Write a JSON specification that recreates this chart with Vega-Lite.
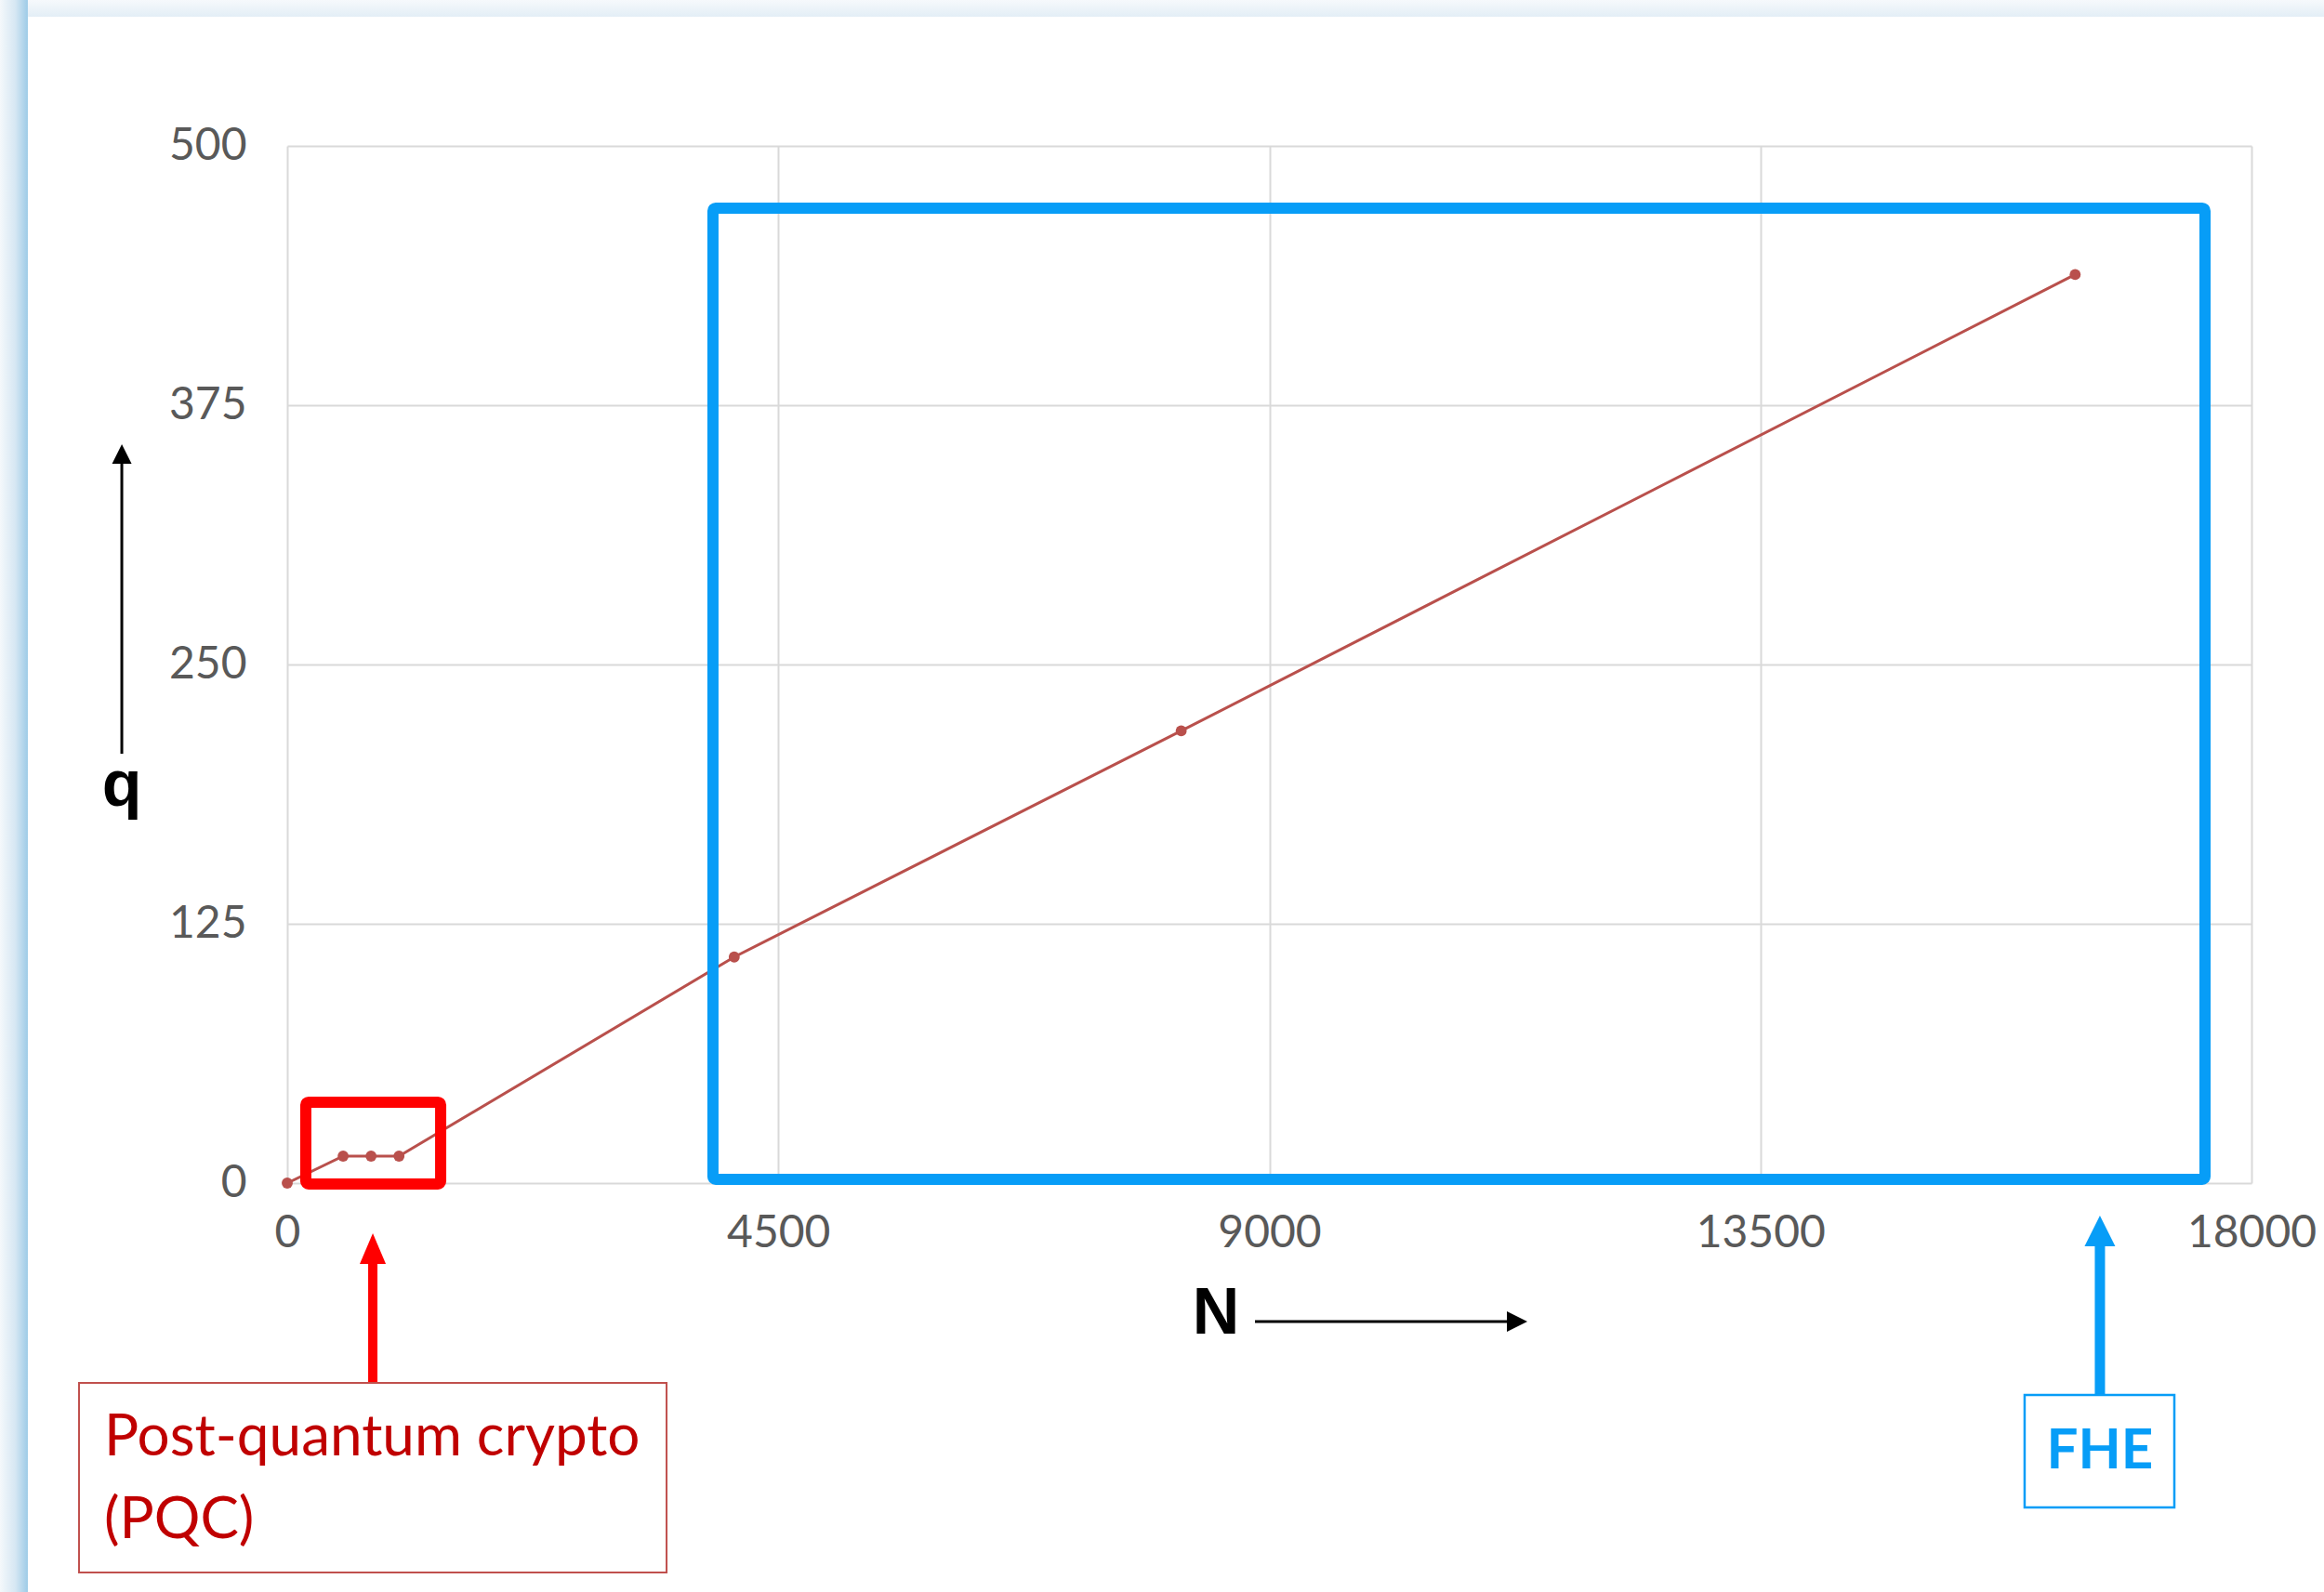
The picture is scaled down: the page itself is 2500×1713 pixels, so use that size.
{
  "$schema": "https://vega.github.io/schema/vega-lite/v6.json",
  "width": 2113,
  "height": 1116,
  "autosize": {"type": "none"},
  "padding": {"left": 309, "top": 157, "right": 78, "bottom": 440},
  "background": "#ffffff",
  "config": {"view": {"stroke": null}},
  "layer": [
    {
      "data": {"values": [
        {"N": 0, "q": 0},
        {"N": 512, "q": 13},
        {"N": 768, "q": 13},
        {"N": 1024, "q": 13},
        {"N": 4096, "q": 109},
        {"N": 8192, "q": 218},
        {"N": 16384, "q": 438}
      ]},
      "mark": {"type": "line", "color": "#B9504C", "strokeWidth": 3, "point": {"filled": true, "size": 140, "color": "#B9504C", "opacity": 1}},
      "encoding": {
        "x": {
          "field": "N", "type": "quantitative",
          "scale": {"domain": [0, 18000], "nice": false, "zero": false},
          "axis": {
            "title": null, "values": [0, 4500, 9000, 13500, 18000], "format": "d", "grid": true, "gridColor": "#D9D9D9", "gridWidth": 2,
            "domain": false, "ticks": false, "tickSize": 0, "labelFont": "Lato", "labelFontSize": 48, "labelColor": "#595959",
            "labelPadding": 30, "labelFlush": false, "labelOverlap": false
          }
        },
        "y": {
          "field": "q", "type": "quantitative",
          "scale": {"domain": [0, 500], "nice": false, "zero": false},
          "axis": {
            "title": null, "values": [0, 125, 250, 375, 500], "format": "d", "grid": true, "gridColor": "#D9D9D9", "gridWidth": 2,
            "domain": false, "ticks": false, "tickSize": 0, "labelFont": "Lato", "labelFontSize": 48, "labelColor": "#595959",
            "labelPadding": 44, "labelFlush": false, "labelOverlap": false
          }
        }
      }
    },
    {
      "data": {"values": [{"x": -2632, "x2": -2377, "y": -197.1, "y2": 570.3}]},
      "mark": {"type": "rect", "fill": {"gradient": "linear", "x1": 0, "y1": 0, "x2": 1, "y2": 0, "stops": [{"offset": 0, "color": "#f4f8fb"}, {"offset": 0.55, "color": "#d6e7f3"}, {"offset": 1, "color": "#9dcbe7"}]}},
      "encoding": {
        "x": {"field": "x", "type": "quantitative", "title": null},
        "x2": {"field": "x2"},
        "y": {"field": "y", "type": "quantitative", "title": null},
        "y2": {"field": "y2"}
      }
    },
    {
      "data": {"values": [{"x": -2377, "x2": 18664, "y": 562.3, "y2": 570.3}]},
      "mark": {"type": "rect", "fill": {"gradient": "linear", "x1": 0, "y1": 0, "x2": 0, "y2": 1, "stops": [{"offset": 0, "color": "#f6f9fc"}, {"offset": 1, "color": "#e3eef6"}]}},
      "encoding": {
        "x": {"field": "x", "type": "quantitative", "title": null},
        "x2": {"field": "x2"},
        "y": {"field": "y", "type": "quantitative", "title": null},
        "y2": {"field": "y2"}
      }
    },
    {
      "data": {"values": [{"x": 3901, "x2": 17574, "y": 1.8, "y2": 470}]},
      "mark": {"type": "rect", "fill": null, "fillOpacity": 0, "stroke": "#079DF7", "strokeWidth": 12, "cornerRadius": 3},
      "encoding": {
        "x": {"field": "x", "type": "quantitative", "title": null},
        "x2": {"field": "x2"},
        "y": {"field": "y", "type": "quantitative", "title": null},
        "y2": {"field": "y2"}
      }
    },
    {
      "data": {"values": [{"x": 170, "x2": 1406, "y": -0.4, "y2": 39}]},
      "mark": {"type": "rect", "fill": null, "fillOpacity": 0, "stroke": "#FF0000", "strokeWidth": 12, "cornerRadius": 3},
      "encoding": {
        "x": {"field": "x", "type": "quantitative", "title": null},
        "x2": {"field": "x2"},
        "y": {"field": "y", "type": "quantitative", "title": null},
        "y2": {"field": "y2"}
      }
    },
    {
      "data": {"values": [{"x": 784, "y": -96.3, "y2": -38}]},
      "mark": {"type": "rule", "color": "#FF0000", "strokeWidth": 10},
      "encoding": {
        "x": {"field": "x", "type": "quantitative", "title": null},
        "y": {"field": "y", "type": "quantitative", "title": null},
        "y2": {"field": "y2"}
      }
    },
    {
      "data": {"values": [{"x": 784, "y": -31.6}]},
      "mark": {"type": "point", "filled": true, "opacity": 1, "color": "#FF0000", "size": 1089, "shape": "M-0.85,1L0.85,1L0,-1Z"},
      "encoding": {
        "x": {"field": "x", "type": "quantitative", "title": null},
        "y": {"field": "y", "type": "quantitative", "title": null}
      }
    },
    {
      "data": {"values": [{"x": 16611, "y": -102.1, "y2": -29}]},
      "mark": {"type": "rule", "color": "#079DF7", "strokeWidth": 11},
      "encoding": {
        "x": {"field": "x", "type": "quantitative", "title": null},
        "y": {"field": "y", "type": "quantitative", "title": null},
        "y2": {"field": "y2"}
      }
    },
    {
      "data": {"values": [{"x": 16611, "y": -23.1}]},
      "mark": {"type": "point", "filled": true, "opacity": 1, "color": "#079DF7", "size": 1089, "shape": "M-1,1L1,1L0,-1Z"},
      "encoding": {
        "x": {"field": "x", "type": "quantitative", "title": null},
        "y": {"field": "y", "type": "quantitative", "title": null}
      }
    },
    {
      "data": {"values": [{"x": -1908, "x2": 3476, "y": -96.3, "y2": -187.7}]},
      "mark": {"type": "rect", "fill": "#ffffff", "stroke": "#C0504D", "strokeWidth": 2},
      "encoding": {
        "x": {"field": "x", "type": "quantitative", "title": null},
        "x2": {"field": "x2"},
        "y": {"field": "y", "type": "quantitative", "title": null},
        "y2": {"field": "y2"}
      }
    },
    {
      "data": {"values": [{"x": 15921, "x2": 17293, "y": -102.1, "y2": -156.4}]},
      "mark": {"type": "rect", "fill": "#ffffff", "stroke": "#079DF7", "strokeWidth": 2.5},
      "encoding": {
        "x": {"field": "x", "type": "quantitative", "title": null},
        "x2": {"field": "x2"},
        "y": {"field": "y", "type": "quantitative", "title": null},
        "y2": {"field": "y2"}
      }
    },
    {
      "data": {"values": [{"x": -1678, "y": -131.3, "label": "Post-quantum crypto\n(PQC)"}]},
      "mark": {"type": "text", "align": "left", "baseline": "alphabetic", "font": "Lato", "fontSize": 62, "color": "#C00000", "lineBreak": "\n", "lineHeight": 89},
      "encoding": {
        "x": {"field": "x", "type": "quantitative", "title": null},
        "y": {"field": "y", "type": "quantitative", "title": null},
        "text": {"field": "label"}
      }
    },
    {
      "data": {"values": [{"x": 16611, "y": -137.5, "label": "FHE"}]},
      "mark": {"type": "text", "align": "center", "baseline": "alphabetic", "font": "Lato", "fontWeight": "bold", "fontSize": 60, "color": "#079DF7"},
      "encoding": {
        "x": {"field": "x", "type": "quantitative", "title": null},
        "y": {"field": "y", "type": "quantitative", "title": null},
        "text": {"field": "label"}
      }
    },
    {
      "data": {"values": [{"x": 8510, "y": -72.6, "label": "N"}, {"x": -1516, "y": 181.9, "label": "q"}]},
      "mark": {"type": "text", "align": "center", "baseline": "alphabetic", "font": "Liberation Sans", "fontWeight": "bold", "fontSize": 70, "color": "#000000"},
      "encoding": {
        "x": {"field": "x", "type": "quantitative", "title": null},
        "y": {"field": "y", "type": "quantitative", "title": null},
        "text": {"field": "label"}
      }
    },
    {
      "data": {"values": [{"x": 8868, "x2": 11190, "y": -66.8}]},
      "mark": {"type": "rule", "color": "#000000", "strokeWidth": 3},
      "encoding": {
        "x": {"field": "x", "type": "quantitative", "title": null},
        "x2": {"field": "x2"},
        "y": {"field": "y", "type": "quantitative", "title": null}
      }
    },
    {
      "data": {"values": [{"x": 11270, "y": -66.8}]},
      "mark": {"type": "point", "filled": true, "opacity": 1, "color": "#000000", "size": 484, "shape": "M-1,-1L1,0L-1,1Z"},
      "encoding": {
        "x": {"field": "x", "type": "quantitative", "title": null},
        "y": {"field": "y", "type": "quantitative", "title": null}
      }
    },
    {
      "data": {"values": [{"x": -1516, "y": 207, "y2": 349}]},
      "mark": {"type": "rule", "color": "#000000", "strokeWidth": 3},
      "encoding": {
        "x": {"field": "x", "type": "quantitative", "title": null},
        "y": {"field": "y", "type": "quantitative", "title": null},
        "y2": {"field": "y2"}
      }
    },
    {
      "data": {"values": [{"x": -1516, "y": 351.5}]},
      "mark": {"type": "point", "filled": true, "opacity": 1, "color": "#000000", "size": 441, "shape": "M-1,1L1,1L0,-1Z"},
      "encoding": {
        "x": {"field": "x", "type": "quantitative", "title": null},
        "y": {"field": "y", "type": "quantitative", "title": null}
      }
    }
  ]
}
